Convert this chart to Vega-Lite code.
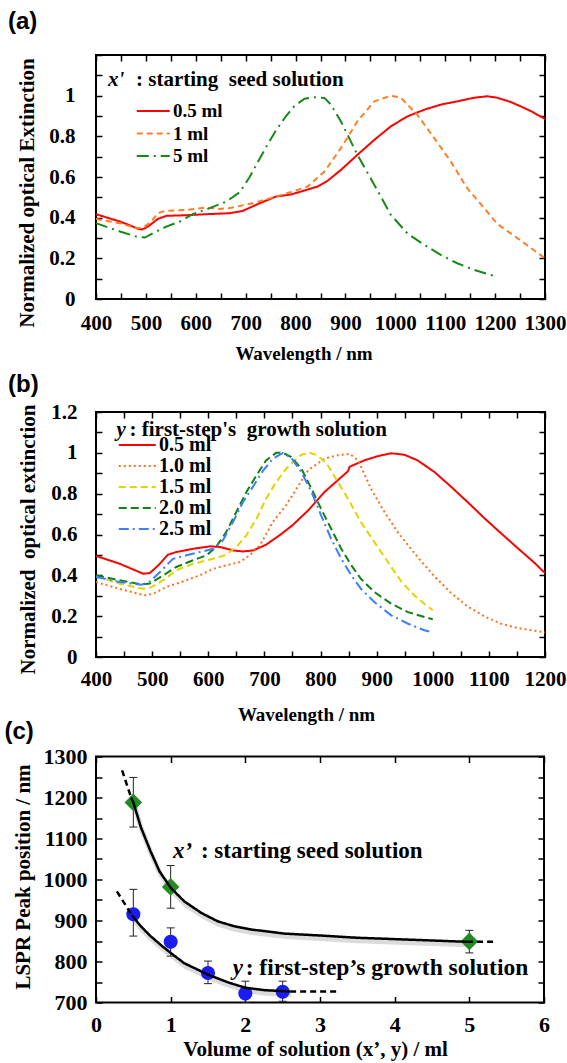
{
  "$schema": "https://vega.github.io/schema/vega-lite/v6.json",
  "padding": {"left": 3, "top": 9, "right": 0, "bottom": 0},
  "background": "white",
  "config": {
    "view": {"stroke": "black", "strokeWidth": 2},
    "axis": {"labelFont": "Liberation Serif, DejaVu Serif, serif", "labelFontWeight": "bold", "labelFontSize": 21, "labelColor": "black", "titleFont": "Liberation Serif, DejaVu Serif, serif", "titleFontWeight": "bold", "titleFontSize": 21, "titleColor": "black", "domain": false, "grid": false, "ticks": true, "tickColor": "black", "tickWidth": 1.5, "tickSize": -6, "labelOverlap": false, "labelFlush": false, "labelBound": false, "titleBaseline": "middle"},
    "legend": {"labelFont": "Liberation Serif, DejaVu Serif, serif", "labelFontWeight": "bold", "labelColor": "black", "symbolType": "M-3,0H1", "symbolStrokeWidth": 2, "symbolFillColor": "transparent", "labelOffset": 2, "padding": 0},
    "title": {"font": "Liberation Sans, Arial, sans-serif", "fontWeight": "bold", "fontSize": 24, "color": "black", "anchor": "start", "frame": "bounds", "baseline": "bottom"},
    "text": {"font": "Liberation Serif, DejaVu Serif, serif", "fontWeight": "bold", "color": "black", "align": "left", "baseline": "middle"}
  },
  "datasets": {
    "a": [
      {"sa":"0.5 ml","w":400,"v":0.417},{"sa":"0.5 ml","w":448,"v":0.381},{"sa":"0.5 ml","w":470,"v":0.36},{"sa":"0.5 ml","w":484,"v":0.345},{"sa":"0.5 ml","w":493,"v":0.342},{"sa":"0.5 ml","w":504,"v":0.356},{"sa":"0.5 ml","w":524,"v":0.394},{"sa":"0.5 ml","w":541,"v":0.409},{"sa":"0.5 ml","w":581,"v":0.412},{"sa":"0.5 ml","w":621,"v":0.417},{"sa":"0.5 ml","w":668,"v":0.422},{"sa":"0.5 ml","w":694,"v":0.433},{"sa":"0.5 ml","w":728,"v":0.471},{"sa":"0.5 ml","w":761,"v":0.504},{"sa":"0.5 ml","w":791,"v":0.514},{"sa":"0.5 ml","w":820,"v":0.535},{"sa":"0.5 ml","w":844,"v":0.553},{"sa":"0.5 ml","w":864,"v":0.581},{"sa":"0.5 ml","w":891,"v":0.635},{"sa":"0.5 ml","w":924,"v":0.709},{"sa":"0.5 ml","w":958,"v":0.783},{"sa":"0.5 ml","w":991,"v":0.849},{"sa":"0.5 ml","w":1024,"v":0.898},{"sa":"0.5 ml","w":1058,"v":0.931},{"sa":"0.5 ml","w":1091,"v":0.956},{"sa":"0.5 ml","w":1124,"v":0.972},{"sa":"0.5 ml","w":1158,"v":0.99},{"sa":"0.5 ml","w":1184,"v":0.997},{"sa":"0.5 ml","w":1204,"v":0.99},{"sa":"0.5 ml","w":1230,"v":0.97},{"sa":"0.5 ml","w":1250,"v":0.949},{"sa":"0.5 ml","w":1275,"v":0.92},{"sa":"0.5 ml","w":1300,"v":0.885},
      {"sa":"1 ml","w":400,"v":0.394},{"sa":"1 ml","w":448,"v":0.373},{"sa":"1 ml","w":481,"v":0.348},{"sa":"1 ml","w":494,"v":0.35},{"sa":"1 ml","w":511,"v":0.381},{"sa":"1 ml","w":524,"v":0.422},{"sa":"1 ml","w":538,"v":0.433},{"sa":"1 ml","w":581,"v":0.438},{"sa":"1 ml","w":621,"v":0.45},{"sa":"1 ml","w":648,"v":0.443},{"sa":"1 ml","w":668,"v":0.447},{"sa":"1 ml","w":714,"v":0.471},{"sa":"1 ml","w":761,"v":0.504},{"sa":"1 ml","w":791,"v":0.526},{"sa":"1 ml","w":824,"v":0.553},{"sa":"1 ml","w":858,"v":0.627},{"sa":"1 ml","w":891,"v":0.742},{"sa":"1 ml","w":924,"v":0.874},{"sa":"1 ml","w":958,"v":0.972},{"sa":"1 ml","w":991,"v":1.0},{"sa":"1 ml","w":1011,"v":0.99},{"sa":"1 ml","w":1044,"v":0.906},{"sa":"1 ml","w":1078,"v":0.791},{"sa":"1 ml","w":1111,"v":0.677},{"sa":"1 ml","w":1144,"v":0.545},{"sa":"1 ml","w":1178,"v":0.447},{"sa":"1 ml","w":1204,"v":0.37},{"sa":"1 ml","w":1250,"v":0.29},{"sa":"1 ml","w":1300,"v":0.2},
      {"sa":"5 ml","w":400,"v":0.373},{"sa":"5 ml","w":448,"v":0.332},{"sa":"5 ml","w":481,"v":0.307},{"sa":"5 ml","w":498,"v":0.302},{"sa":"5 ml","w":514,"v":0.324},{"sa":"5 ml","w":541,"v":0.356},{"sa":"5 ml","w":568,"v":0.381},{"sa":"5 ml","w":594,"v":0.417},{"sa":"5 ml","w":628,"v":0.447},{"sa":"5 ml","w":661,"v":0.479},{"sa":"5 ml","w":688,"v":0.525},{"sa":"5 ml","w":708,"v":0.6},{"sa":"5 ml","w":728,"v":0.69},{"sa":"5 ml","w":744,"v":0.76},{"sa":"5 ml","w":761,"v":0.83},{"sa":"5 ml","w":781,"v":0.9},{"sa":"5 ml","w":798,"v":0.95},{"sa":"5 ml","w":818,"v":0.985},{"sa":"5 ml","w":838,"v":0.992},{"sa":"5 ml","w":858,"v":0.989},{"sa":"5 ml","w":871,"v":0.956},{"sa":"5 ml","w":891,"v":0.873},{"sa":"5 ml","w":924,"v":0.709},{"sa":"5 ml","w":958,"v":0.561},{"sa":"5 ml","w":991,"v":0.414},{"sa":"5 ml","w":1024,"v":0.323},{"sa":"5 ml","w":1058,"v":0.266},{"sa":"5 ml","w":1091,"v":0.217},{"sa":"5 ml","w":1124,"v":0.176},{"sa":"5 ml","w":1158,"v":0.143},{"sa":"5 ml","w":1191,"v":0.118},{"sa":"5 ml","w":1200,"v":0.113}
    ],
    "b": [
      {"sb":"0.5 ml","w":400,"v":0.495},{"sb":"0.5 ml","w":442,"v":0.457},{"sb":"0.5 ml","w":484,"v":0.408},{"sb":"0.5 ml","w":496,"v":0.411},{"sb":"0.5 ml","w":511,"v":0.449},{"sb":"0.5 ml","w":528,"v":0.501},{"sb":"0.5 ml","w":543,"v":0.514},{"sb":"0.5 ml","w":573,"v":0.53},{"sb":"0.5 ml","w":603,"v":0.542},{"sb":"0.5 ml","w":620,"v":0.539},{"sb":"0.5 ml","w":644,"v":0.522},{"sb":"0.5 ml","w":662,"v":0.517},{"sb":"0.5 ml","w":680,"v":0.522},{"sb":"0.5 ml","w":703,"v":0.55},{"sb":"0.5 ml","w":727,"v":0.596},{"sb":"0.5 ml","w":750,"v":0.645},{"sb":"0.5 ml","w":778,"v":0.718},{"sb":"0.5 ml","w":807,"v":0.808},{"sb":"0.5 ml","w":837,"v":0.881},{"sb":"0.5 ml","w":849,"v":0.91},{"sb":"0.5 ml","w":852,"v":0.932},{"sb":"0.5 ml","w":878,"v":0.963},{"sb":"0.5 ml","w":902,"v":0.984},{"sb":"0.5 ml","w":926,"v":0.998},{"sb":"0.5 ml","w":950,"v":0.99},{"sb":"0.5 ml","w":973,"v":0.963},{"sb":"0.5 ml","w":1003,"v":0.906},{"sb":"0.5 ml","w":1033,"v":0.833},{"sb":"0.5 ml","w":1062,"v":0.759},{"sb":"0.5 ml","w":1092,"v":0.68},{"sb":"0.5 ml","w":1122,"v":0.605},{"sb":"0.5 ml","w":1151,"v":0.534},{"sb":"0.5 ml","w":1181,"v":0.462},{"sb":"0.5 ml","w":1200,"v":0.411},
      {"sb":"1.0 ml","w":400,"v":0.367},{"sb":"1.0 ml","w":442,"v":0.334},{"sb":"1.0 ml","w":487,"v":0.302},{"sb":"1.0 ml","w":502,"v":0.31},{"sb":"1.0 ml","w":525,"v":0.343},{"sb":"1.0 ml","w":549,"v":0.364},{"sb":"1.0 ml","w":585,"v":0.4},{"sb":"1.0 ml","w":609,"v":0.432},{"sb":"1.0 ml","w":632,"v":0.449},{"sb":"1.0 ml","w":656,"v":0.465},{"sb":"1.0 ml","w":674,"v":0.498},{"sb":"1.0 ml","w":692,"v":0.547},{"sb":"1.0 ml","w":715,"v":0.661},{"sb":"1.0 ml","w":739,"v":0.745},{"sb":"1.0 ml","w":754,"v":0.81},{"sb":"1.0 ml","w":778,"v":0.915},{"sb":"1.0 ml","w":807,"v":0.971},{"sb":"1.0 ml","w":831,"v":0.988},{"sb":"1.0 ml","w":852,"v":0.995},{"sb":"1.0 ml","w":867,"v":0.963},{"sb":"1.0 ml","w":890,"v":0.824},{"sb":"1.0 ml","w":914,"v":0.71},{"sb":"1.0 ml","w":938,"v":0.61},{"sb":"1.0 ml","w":961,"v":0.53},{"sb":"1.0 ml","w":979,"v":0.47},{"sb":"1.0 ml","w":1003,"v":0.395},{"sb":"1.0 ml","w":1033,"v":0.313},{"sb":"1.0 ml","w":1062,"v":0.248},{"sb":"1.0 ml","w":1092,"v":0.199},{"sb":"1.0 ml","w":1122,"v":0.163},{"sb":"1.0 ml","w":1151,"v":0.142},{"sb":"1.0 ml","w":1181,"v":0.129},{"sb":"1.0 ml","w":1200,"v":0.121},
      {"sb":"1.5 ml","w":400,"v":0.397},{"sb":"1.5 ml","w":442,"v":0.359},{"sb":"1.5 ml","w":484,"v":0.334},{"sb":"1.5 ml","w":499,"v":0.342},{"sb":"1.5 ml","w":520,"v":0.376},{"sb":"1.5 ml","w":543,"v":0.425},{"sb":"1.5 ml","w":573,"v":0.457},{"sb":"1.5 ml","w":609,"v":0.481},{"sb":"1.5 ml","w":632,"v":0.501},{"sb":"1.5 ml","w":650,"v":0.539},{"sb":"1.5 ml","w":668,"v":0.596},{"sb":"1.5 ml","w":686,"v":0.677},{"sb":"1.5 ml","w":703,"v":0.775},{"sb":"1.5 ml","w":721,"v":0.857},{"sb":"1.5 ml","w":739,"v":0.922},{"sb":"1.5 ml","w":754,"v":0.963},{"sb":"1.5 ml","w":766,"v":0.991},{"sb":"1.5 ml","w":781,"v":1.0},{"sb":"1.5 ml","w":795,"v":0.988},{"sb":"1.5 ml","w":813,"v":0.939},{"sb":"1.5 ml","w":831,"v":0.857},{"sb":"1.5 ml","w":849,"v":0.775},{"sb":"1.5 ml","w":872,"v":0.661},{"sb":"1.5 ml","w":896,"v":0.563},{"sb":"1.5 ml","w":920,"v":0.465},{"sb":"1.5 ml","w":944,"v":0.37},{"sb":"1.5 ml","w":967,"v":0.302},{"sb":"1.5 ml","w":985,"v":0.261},{"sb":"1.5 ml","w":1000,"v":0.229},
      {"sb":"2.0 ml","w":400,"v":0.4},{"sb":"2.0 ml","w":442,"v":0.376},{"sb":"2.0 ml","w":481,"v":0.356},{"sb":"2.0 ml","w":496,"v":0.36},{"sb":"2.0 ml","w":520,"v":0.4},{"sb":"2.0 ml","w":543,"v":0.441},{"sb":"2.0 ml","w":573,"v":0.474},{"sb":"2.0 ml","w":597,"v":0.498},{"sb":"2.0 ml","w":614,"v":0.539},{"sb":"2.0 ml","w":632,"v":0.612},{"sb":"2.0 ml","w":650,"v":0.71},{"sb":"2.0 ml","w":668,"v":0.808},{"sb":"2.0 ml","w":686,"v":0.89},{"sb":"2.0 ml","w":703,"v":0.963},{"sb":"2.0 ml","w":721,"v":1.0},{"sb":"2.0 ml","w":733,"v":1.0},{"sb":"2.0 ml","w":748,"v":0.979},{"sb":"2.0 ml","w":766,"v":0.922},{"sb":"2.0 ml","w":784,"v":0.824},{"sb":"2.0 ml","w":801,"v":0.726},{"sb":"2.0 ml","w":819,"v":0.628},{"sb":"2.0 ml","w":837,"v":0.53},{"sb":"2.0 ml","w":855,"v":0.449},{"sb":"2.0 ml","w":872,"v":0.383},{"sb":"2.0 ml","w":896,"v":0.318},{"sb":"2.0 ml","w":926,"v":0.261},{"sb":"2.0 ml","w":956,"v":0.22},{"sb":"2.0 ml","w":985,"v":0.196},{"sb":"2.0 ml","w":1000,"v":0.185},
      {"sb":"2.5 ml","w":400,"v":0.392},{"sb":"2.5 ml","w":442,"v":0.367},{"sb":"2.5 ml","w":481,"v":0.354},{"sb":"2.5 ml","w":496,"v":0.37},{"sb":"2.5 ml","w":514,"v":0.416},{"sb":"2.5 ml","w":537,"v":0.481},{"sb":"2.5 ml","w":561,"v":0.498},{"sb":"2.5 ml","w":585,"v":0.514},{"sb":"2.5 ml","w":609,"v":0.53},{"sb":"2.5 ml","w":626,"v":0.571},{"sb":"2.5 ml","w":644,"v":0.661},{"sb":"2.5 ml","w":662,"v":0.759},{"sb":"2.5 ml","w":680,"v":0.836},{"sb":"2.5 ml","w":698,"v":0.914},{"sb":"2.5 ml","w":715,"v":0.971},{"sb":"2.5 ml","w":733,"v":1.0},{"sb":"2.5 ml","w":748,"v":0.975},{"sb":"2.5 ml","w":766,"v":0.906},{"sb":"2.5 ml","w":784,"v":0.808},{"sb":"2.5 ml","w":801,"v":0.694},{"sb":"2.5 ml","w":819,"v":0.579},{"sb":"2.5 ml","w":837,"v":0.481},{"sb":"2.5 ml","w":855,"v":0.4},{"sb":"2.5 ml","w":872,"v":0.334},{"sb":"2.5 ml","w":896,"v":0.269},{"sb":"2.5 ml","w":926,"v":0.204},{"sb":"2.5 ml","w":956,"v":0.163},{"sb":"2.5 ml","w":985,"v":0.131},{"sb":"2.5 ml","w":1000,"v":0.12}
    ],
    "c": [
      {"ser":"x'","vol":0.5,"peak":1188,"lo":1128,"hi":1249},
      {"ser":"x'","vol":1,"peak":982,"lo":930,"hi":1034},
      {"ser":"x'","vol":5,"peak":849,"lo":821,"hi":876},
      {"ser":"y","vol":0.5,"peak":915,"lo":862,"hi":976},
      {"ser":"y","vol":1,"peak":848,"lo":813,"hi":882},
      {"ser":"y","vol":1.5,"peak":772,"lo":746,"hi":801},
      {"ser":"y","vol":2,"peak":722,"lo":700,"hi":752},
      {"ser":"y","vol":2.5,"peak":726,"lo":703,"hi":752}
    ],
    "cfit": [
      {"seg":"x1","part":"dash","vol":0.35,"pk":1266},{"seg":"x1","part":"dash","vol":0.47,"pk":1200},
      {"seg":"x2","part":"solid","vol":0.47,"pk":1200},{"seg":"x2","part":"solid","vol":0.5,"pk":1188},{"seg":"x2","part":"solid","vol":0.6,"pk":1128},{"seg":"x2","part":"solid","vol":0.73,"pk":1069},{"seg":"x2","part":"solid","vol":0.85,"pk":1020},{"seg":"x2","part":"solid","vol":1.0,"pk":980},{"seg":"x2","part":"solid","vol":1.18,"pk":947},{"seg":"x2","part":"solid","vol":1.405,"pk":919},{"seg":"x2","part":"solid","vol":1.63,"pk":898},{"seg":"x2","part":"solid","vol":1.85,"pk":886},{"seg":"x2","part":"solid","vol":2.08,"pk":878},{"seg":"x2","part":"solid","vol":2.53,"pk":868},{"seg":"x2","part":"solid","vol":3.04,"pk":863},{"seg":"x2","part":"solid","vol":3.49,"pk":858},{"seg":"x2","part":"solid","vol":3.94,"pk":855},{"seg":"x2","part":"solid","vol":4.39,"pk":852},{"seg":"x2","part":"solid","vol":4.97,"pk":848},
      {"seg":"x3","part":"dash","vol":4.97,"pk":848},{"seg":"x3","part":"dash","vol":5.33,"pk":848},
      {"seg":"y1","part":"dash","vol":0.28,"pk":971},{"seg":"y1","part":"dash","vol":0.48,"pk":913},
      {"seg":"y2","part":"solid","vol":0.48,"pk":913},{"seg":"y2","part":"solid","vol":0.6,"pk":886},{"seg":"y2","part":"solid","vol":0.73,"pk":862},{"seg":"y2","part":"solid","vol":0.87,"pk":840},{"seg":"y2","part":"solid","vol":1.0,"pk":821},{"seg":"y2","part":"solid","vol":1.18,"pk":796},{"seg":"y2","part":"solid","vol":1.5,"pk":768},{"seg":"y2","part":"solid","vol":1.77,"pk":749},{"seg":"y2","part":"solid","vol":2.0,"pk":736},{"seg":"y2","part":"solid","vol":2.26,"pk":730},{"seg":"y2","part":"solid","vol":2.6,"pk":727},
      {"seg":"y3","part":"dash","vol":2.6,"pk":727},{"seg":"y3","part":"dash","vol":3.22,"pk":727}
    ]
  },
  "spacing": -7.5,
  "resolve": {"scale": {"color": "independent", "strokeDash": "independent", "shape": "independent", "size": "independent"}, "legend": {"color": "independent", "strokeDash": "independent"}},
  "vconcat": [
    {
      "spacing": 7,
      "resolve": {"scale": {"color": "independent", "strokeDash": "independent"}, "legend": {"color": "independent", "strokeDash": "independent"}},
      "vconcat": [
        {
          "width": 449, "height": 244,
          "title": {"text": "(a)", "dx": -8.5, "offset": 10},
          "resolve": {"axis": {"x": "independent", "y": "independent"}},
          "layer": [
            {
              "data": {"name": "a"},
              "mark": {"type": "line", "strokeWidth": 2, "clip": true},
              "encoding": {
                "x": {"field": "w", "type": "quantitative", "scale": {"domain": [400, 1300], "nice": false, "zero": false},
                  "axis": {"values": [400,450,500,550,600,650,700,750,800,850,900,950,1000,1050,1100,1150,1200,1250,1300], "labelExpr": "datum.value % 100 === 0 ? format(datum.value, 'd') : ''", "labelPadding": 19, "title": "Wavelength / nm", "titleFontSize": 19, "titleX": 207.5, "titleY": 54.5}},
                "y": {"field": "v", "type": "quantitative", "scale": {"domain": [0, 1.2], "nice": false},
                  "axis": {"values": [0,0.1,0.2,0.3,0.4,0.5,0.6,0.7,0.8,0.9,1,1.1,1.2], "labelExpr": "(round(datum.value*10) % 2 === 0 && datum.value < 1.1) ? format(datum.value, '~g') : ''", "labelPadding": 27, "title": "Normalized optical Extinction", "titleX": -68.5, "titleY": 137.5}},
                "color": {"field": "sa", "type": "nominal", "scale": {"domain": ["0.5 ml", "1 ml", "5 ml"], "range": ["#ff0000", "#ff7f27", "#168a16"]},
                  "legend": {"orient": "none", "legendX": 56, "legendY": 46.4, "title": null, "labelFontSize": 19, "symbolSize": 272, "rowPadding": 2.6}},
                "strokeDash": {"field": "sa", "type": "nominal", "scale": {"domain": ["0.5 ml", "1 ml", "5 ml"], "range": [[1, 0], [6, 4], [12, 5, 2, 5]]},
                  "legend": {"orient": "none", "legendX": 56, "legendY": 46.4, "title": null, "labelFontSize": 19, "symbolSize": 272, "rowPadding": 2.6}}
              }
            },
            {
              "data": {"values": [{}]},
              "mark": {"type": "text", "text": "x'", "fontStyle": "italic", "fontSize": 21},
              "encoding": {
                "x": {"datum": 424, "type": "quantitative", "axis": {"orient": "top", "values": [400,450,500,550,600,650,700,750,800,850,900,950,1000,1050,1100,1150,1200,1250,1300], "labels": false, "title": null}},
                "y": {"datum": 1.075, "type": "quantitative", "axis": {"orient": "right", "values": [0,0.1,0.2,0.3,0.4,0.5,0.6,0.7,0.8,0.9,1,1.1,1.2], "labels": false, "title": null}}
              }
            },
            {
              "data": {"values": [{}]},
              "mark": {"type": "text", "text": ": starting\u00a0\u00a0seed solution", "fontSize": 21, "dx": 28},
              "encoding": {
                "x": {"datum": 424, "type": "quantitative", "axis": null},
                "y": {"datum": 1.075, "type": "quantitative", "axis": null}
              }
            }
          ]
        },
        {
          "width": 449, "height": 245,
          "title": {"text": "(b)", "dx": -9.5, "offset": 4},
          "resolve": {"axis": {"x": "independent", "y": "independent"}},
          "layer": [
            {
              "data": {"name": "b"},
              "mark": {"type": "line", "strokeWidth": 2, "clip": true},
              "encoding": {
                "x": {"field": "w", "type": "quantitative", "scale": {"domain": [400, 1200], "nice": false, "zero": false},
                  "axis": {"values": [400,450,500,550,600,650,700,750,800,850,900,950,1000,1050,1100,1150,1200], "labelExpr": "datum.value % 100 === 0 ? format(datum.value, 'd') : ''", "labelPadding": 17, "title": "Wavelength / nm", "titleFontSize": 19, "titleX": 210, "titleY": 57.7}},
                "y": {"field": "v", "type": "quantitative", "scale": {"domain": [0, 1.2], "nice": false},
                  "axis": {"values": [0,0.1,0.2,0.3,0.4,0.5,0.6,0.7,0.8,0.9,1,1.1,1.2], "labelExpr": "round(datum.value*10) % 2 === 0 ? format(datum.value, '~g') : ''", "labelPadding": 25, "title": "Normalized\u00a0 optical extinction", "titleX": -67.5, "titleY": 127}},
                "color": {"field": "sb", "type": "nominal", "scale": {"domain": ["0.5 ml", "1.0 ml", "1.5 ml", "2.0 ml", "2.5 ml"], "range": ["#ff0000", "#ff7020", "#e3d400", "#128012", "#3d7eff"]},
                  "legend": {"orient": "none", "legendX": 40, "legendY": 22.5, "title": null, "labelFontSize": 20, "symbolSize": 342, "rowPadding": -0.8}},
                "strokeDash": {"field": "sb", "type": "nominal", "scale": {"domain": ["0.5 ml", "1.0 ml", "1.5 ml", "2.0 ml", "2.5 ml"], "range": [[1, 0], [2, 3], [7, 4], [8, 4], [10, 4, 2, 4]]},
                  "legend": {"orient": "none", "legendX": 40, "legendY": 22.5, "title": null, "labelFontSize": 20, "symbolSize": 342, "rowPadding": -0.8}}
              }
            },
            {
              "data": {"values": [{}]},
              "mark": {"type": "text", "text": "y", "fontStyle": "italic", "fontSize": 21},
              "encoding": {
                "x": {"datum": 436.5, "type": "quantitative", "axis": {"orient": "top", "values": [400,450,500,550,600,650,700,750,800,850,900,950,1000,1050,1100,1150,1200], "labels": false, "title": null}},
                "y": {"datum": 1.11, "type": "quantitative", "axis": {"orient": "right", "values": [0,0.1,0.2,0.3,0.4,0.5,0.6,0.7,0.8,0.9,1,1.1,1.2], "labels": false, "title": null}}
              }
            },
            {
              "data": {"values": [{}]},
              "mark": {"type": "text", "text": ": first-step's\u00a0\u00a0growth solution", "fontSize": 21, "dx": 13},
              "encoding": {
                "x": {"datum": 436.5, "type": "quantitative", "axis": null},
                "y": {"datum": 1.11, "type": "quantitative", "axis": null}
              }
            }
          ]
        }
      ]
    },
    {
      "width": 448, "height": 246,
      "title": {"text": "(c)", "dx": -7.5, "offset": 2},
      "resolve": {"axis": {"x": "independent", "y": "independent"}},
      "layer": [
        {
          "data": {"name": "c"},
          "mark": {"type": "rule", "color": "#222", "strokeWidth": 1},
          "encoding": {
            "x": {"field": "vol", "type": "quantitative", "scale": {"domain": [0, 6], "nice": false},
              "axis": {"values": [0,1,2,3,4,5,6], "labelExpr": "format(datum.value, 'd')", "labelPadding": 18, "labelFontSize": 22, "title": "Volume of solution (x’, y) / ml", "titleX": 219, "titleY": 47}},
            "y": {"field": "lo", "type": "quantitative", "scale": {"domain": [700, 1300], "nice": false, "zero": false},
              "axis": {"values": [700,750,800,850,900,950,1000,1050,1100,1150,1200,1250,1300], "labelExpr": "datum.value % 100 === 0 ? format(datum.value, 'd') : ''", "labelPadding": 15, "labelFontSize": 22, "title": "LSPR Peak position / nm", "titleX": -73, "titleY": 120}},
            "y2": {"field": "hi"}
          }
        },
        {
          "data": {"name": "c"},
          "mark": {"type": "tick", "orient": "horizontal", "size": 8, "thickness": 1, "color": "#222", "opacity": 1},
          "encoding": {
            "x": {"field": "vol", "type": "quantitative", "axis": null},
            "y": {"field": "lo", "type": "quantitative", "axis": null}
          }
        },
        {
          "data": {"name": "c"},
          "mark": {"type": "tick", "orient": "horizontal", "size": 8, "thickness": 1, "color": "#222", "opacity": 1},
          "encoding": {
            "x": {"field": "vol", "type": "quantitative", "axis": null},
            "y": {"field": "hi", "type": "quantitative", "axis": null}
          }
        },
        {
          "data": {"name": "cfit"},
          "transform": [{"filter": "datum.part === 'solid'"}],
          "mark": {"type": "line", "stroke": "#888888", "strokeWidth": 5, "opacity": 0.3, "yOffset": 3, "xOffset": 1},
          "encoding": {
            "x": {"field": "vol", "type": "quantitative", "axis": null},
            "y": {"field": "pk", "type": "quantitative", "axis": null},
            "detail": {"field": "seg"}
          }
        },
        {
          "data": {"name": "c"},
          "mark": {"type": "point", "filled": true, "opacity": 1, "strokeWidth": 0},
          "encoding": {
            "x": {"field": "vol", "type": "quantitative", "axis": null},
            "y": {"field": "peak", "type": "quantitative", "axis": null},
            "shape": {"field": "ser", "type": "nominal", "scale": {"domain": ["x'", "y"], "range": ["diamond", "circle"]}, "legend": null},
            "color": {"field": "ser", "type": "nominal", "scale": {"domain": ["x'", "y"], "range": ["#238b23", "#1c1cf0"]}, "legend": null},
            "size": {"field": "ser", "type": "ordinal", "scale": {"domain": ["x'", "y"], "range": [310, 200]}, "legend": null}
          }
        },
        {
          "data": {"name": "cfit"},
          "mark": {"type": "line", "color": "black", "strokeWidth": 2.5},
          "encoding": {
            "x": {"field": "vol", "type": "quantitative", "axis": null},
            "y": {"field": "pk", "type": "quantitative", "axis": null},
            "detail": {"field": "seg"},
            "strokeDash": {"field": "part", "type": "nominal", "scale": {"domain": ["solid", "dash"], "range": [[1, 0], [6, 4]]}, "legend": null}
          }
        },
        {
          "data": {"values": [{}]},
          "mark": {"type": "text", "text": "x’", "fontStyle": "italic", "fontSize": 23},
          "encoding": {
            "x": {"datum": 1.03, "type": "quantitative", "axis": {"orient": "top", "values": [0,1,2,3,4,5,6], "labels": false, "title": null}},
            "y": {"datum": 1069, "type": "quantitative", "axis": {"orient": "right", "values": [700,750,800,850,900,950,1000,1050,1100,1150,1200,1250,1300], "labels": false, "title": null}}
          }
        },
        {
          "data": {"values": [{}]},
          "mark": {"type": "text", "text": ": starting seed solution", "fontSize": 23, "dx": 28},
          "encoding": {
            "x": {"datum": 1.03, "type": "quantitative", "axis": null},
            "y": {"datum": 1069, "type": "quantitative", "axis": null}
          }
        },
        {
          "data": {"values": [{}]},
          "mark": {"type": "text", "text": "y", "fontStyle": "italic", "fontSize": 23},
          "encoding": {
            "x": {"datum": 1.83, "type": "quantitative", "axis": null},
            "y": {"datum": 785, "type": "quantitative", "axis": null}
          }
        },
        {
          "data": {"values": [{}]},
          "mark": {"type": "text", "text": ": first-step’s growth solution", "fontSize": 23.5, "dx": 13},
          "encoding": {
            "x": {"datum": 1.83, "type": "quantitative", "axis": null},
            "y": {"datum": 785, "type": "quantitative", "axis": null}
          }
        }
      ]
    }
  ]
}
